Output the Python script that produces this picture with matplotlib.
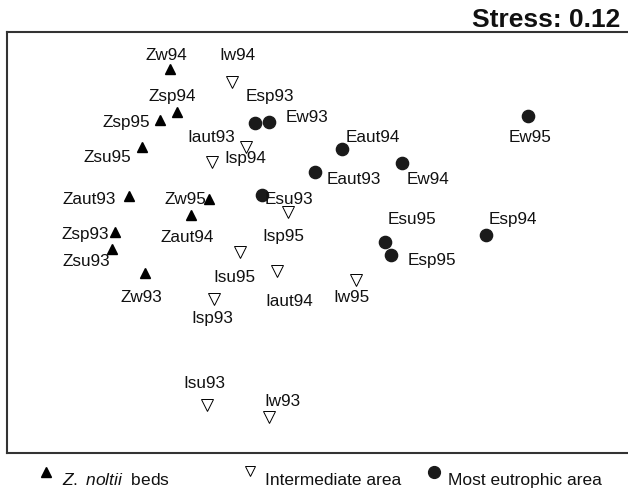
"""nMDS ordination plot of the sampling stations (Z / I / E areas)."""
import matplotlib
matplotlib.use("Agg")
import matplotlib.pyplot as plt

plt.rcParams["font.family"] = ["Liberation Sans", "DejaVu Sans"]
plt.rcParams["mathtext.fontset"] = "custom"
plt.rcParams["mathtext.it"] = "Liberation Sans:italic"
plt.rcParams["mathtext.rm"] = "Liberation Sans"

# --- ordination scores (arbitrary MDS units) ---
z_labels = ["Zw94", "Zsp94", "Zsp95", "Zsu95", "Zaut93",
            "Zw95", "Zaut94", "Zsp93", "Zsu93", "Zw93"]
z_x = [163, 170, 153, 135, 122, 202, 184, 108, 105, 138]
z_y = [384, 341, 333, 306, 257, 254, 238, 221, 204, 180]

i_labels = ["Iw94", "Iaut93", "Isp94", "Isp95", "Isu95",
            "Iaut94", "Isp93", "Iw95", "Isu93", "Iw93"]
i_x = [225, 239, 205, 281, 233, 270, 207, 349, 200, 262]
i_y = [371, 306, 291, 241, 201, 182, 154, 173, 48, 36]

e_labels = ["Esp93", "Ew93", "Ew95", "Eaut94", "Eaut93",
            "Ew94", "Esu93", "Esu95", "Esp95", "Esp94"]
e_x = [248, 262, 521, 335, 308, 395, 255, 378, 384, 479]
e_y = [330, 331, 337, 304, 281, 290, 258, 211, 198, 218]

stress = 0.12

# label placement (pixel offsets from the point)
z_offsets = [(-4, 14), (-5, 16), (-34, -1), (-35, -10), (-40, -2),
             (-24, 0), (-4, -21), (-30, -2), (-26, -11), (-4, -24)]
i_offsets = [(5, 27), (-35, 11), (33, 5), (-5, -24), (-6, -25),
             (12, -30), (-2, -19), (-5, -17), (-3, 22), (13, 16)]
e_offsets = [(15, 27), (38, 6), (2, -21), (31, 12), (39, -6),
             (26, -15), (27, -3), (27, 23), (41, -5), (27, 16)]


def _label(ax, xs, ys, names, offsets):
    for x, y, name, (dx, dy) in zip(xs, ys, names, offsets):
        ax.annotate(name, (x, y), xytext=(dx, dy), textcoords="offset pixels",
                    ha="center", va="center", fontsize=12.3, color="#111111")


def plot_mds(output_path="out.png"):
    W, H = 628, 489
    fig = plt.figure(figsize=(W / 100, H / 100), dpi=100)
    ax = fig.add_axes([7 / W, (H - 454) / H, 1 - 7 / W, 421 / H])

    ax.plot(z_x, z_y, ls="none", marker="^", ms=7.5, color="black")
    ax.plot(i_x, i_y, ls="none", marker="v", ms=8, mfc="white",
            mec="black", mew=0.7)
    ax.plot(e_x, e_y, ls="none", marker="o", ms=8.8, color="#1a1a1a")

    _label(ax, z_x, z_y, z_labels, z_offsets)
    _label(ax, i_x, i_y, i_labels, i_offsets)
    _label(ax, e_x, e_y, e_labels, e_offsets)

    ax.set_xlim(0, 621)
    ax.set_ylim(0, 421)
    ax.set_xticks([])
    ax.set_yticks([])
    for side in ("left", "top", "bottom"):
        ax.spines[side].set_linewidth(1.5)
        ax.spines[side].set_color("#333333")
    ax.spines["right"].set_visible(False)

    fig.text(620 / W, (H - 27) / H, f"Stress: {stress:.2f}", ha="right",
             va="baseline", fontsize=19, fontweight="bold", color="#111111")

    # legend below the frame
    my = (H - 473) / H
    ty = (H - 485) / H
    fig.add_artist(plt.Line2D([46 / W], [my], ls="none", marker="^", ms=6.5,
                              color="black", transform=fig.transFigure))
    fig.add_artist(plt.Line2D([250 / W], [my + 1 / H], ls="none", marker="v",
                              ms=7.5, mfc="white", mec="black", mew=0.7,
                              transform=fig.transFigure))
    fig.add_artist(plt.Line2D([434 / W], [my], ls="none", marker="o", ms=8.5,
                              color="#1a1a1a", transform=fig.transFigure))
    legend_texts = [r"$\it{Z.\ noltii}$  beds", "Intermediate area",
                    "Most eutrophic area"]
    for x0, txt in zip([62, 265, 448], legend_texts):
        fig.text(x0 / W, ty, txt, ha="left", va="baseline", fontsize=12.5,
                 color="#111111")

    fig.savefig(output_path, dpi=100)
    plt.close(fig)


if __name__ == "__main__":
    plot_mds()
